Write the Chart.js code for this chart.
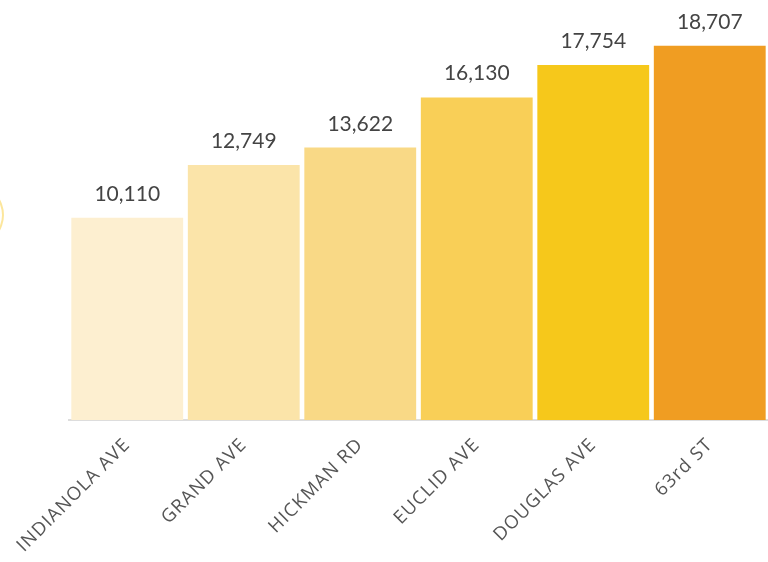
<!DOCTYPE html>
<html>
<head>
<meta charset="utf-8">
<script src="https://cdn.jsdelivr.net/npm/chart.js@4/dist/chart.umd.min.js"></script>
<style>
  html, body { margin: 0; padding: 0; background: #fff; overflow: hidden; }
  #wrap { position: relative; width: 768px; height: 562px; }
  #ring { position: absolute; left: -196px; top: 160px; width: 196px; height: 106px;
          border-radius: 50%; border: 2px solid rgba(250, 214, 90, 0.6); }
</style>
</head>
<body>
<div id="wrap">
  <div id="ring"></div>
  <canvas id="roadChart"></canvas>
</div>
<script>
// streets and traffic counts
var streetLabels = ['INDIANOLA AVE', 'GRAND AVE', 'HICKMAN RD', 'EUCLID AVE', 'DOUGLAS AVE', '63rd ST'];
var trafficCounts = [10110, 12749, 13622, 16130, 17754, 18707];
var barColors = ['#FDEFD0', '#FBE4A9', '#F9D986', '#F9CF57', '#F6C81B', '#F09D22'];

// the street names are spread out, so add letter spacing
var spacing = {
  id: 'spacing',
  beforeLayout: function(chart) { chart.ctx.letterSpacing = '1.1px'; },
  beforeDraw: function(chart) { chart.ctx.letterSpacing = '1.1px'; }
};

// draws the number above every bar
var valueLabels = {
  id: 'valueLabels',
  afterDatasetsDraw: function(chart) {
    var ctx = chart.ctx;
    var meta = chart.getDatasetMeta(0);
    ctx.save();
    ctx.letterSpacing = '0px';
    ctx.font = '21px Lato';
    ctx.fillStyle = '#444444';
    ctx.textAlign = 'center';
    ctx.textBaseline = 'alphabetic';
    for (var i = 0; i < meta.data.length; i++) {
      var bar = meta.data[i];
      ctx.fillText(trafficCounts[i].toLocaleString('en-US'), bar.x, bar.y - 17);
    }
    ctx.restore();
  }
};

var roadChart = new Chart(document.getElementById('roadChart'), {
  type: 'bar',
  data: {
    labels: streetLabels,
    datasets: [{
      data: trafficCounts,
      backgroundColor: barColors,
      borderWidth: 0,
      barPercentage: 1,
      categoryPercentage: 0.96
    }]
  },
  options: {
    responsive: true,
    maintainAspectRatio: false,
    animation: false,
    layout: { padding: { left: 69, right: 0, top: 0, bottom: 0 } },
    plugins: { legend: { display: false }, tooltip: { enabled: false } },
    scales: {
      x: {
        grid: { display: false, drawOnChartArea: false },
        border: { display: true, color: '#DDDDDD', width: 2 },
        ticks: {
          color: '#555555',
          font: { family: 'Open Sans', size: 18.5 },
          maxRotation: 45,
          minRotation: 45,
          autoSkip: false,
          padding: 6
        },
        afterFit: function(scale) {
          scale.height = 142;
          scale.paddingLeft = 0;
          scale.paddingRight = 0;
        }
      },
      y: {
        display: false,
        min: 0,
        max: 21000
      }
    }
  },
  plugins: [spacing, valueLabels]
});
</script>
</body>
</html>
